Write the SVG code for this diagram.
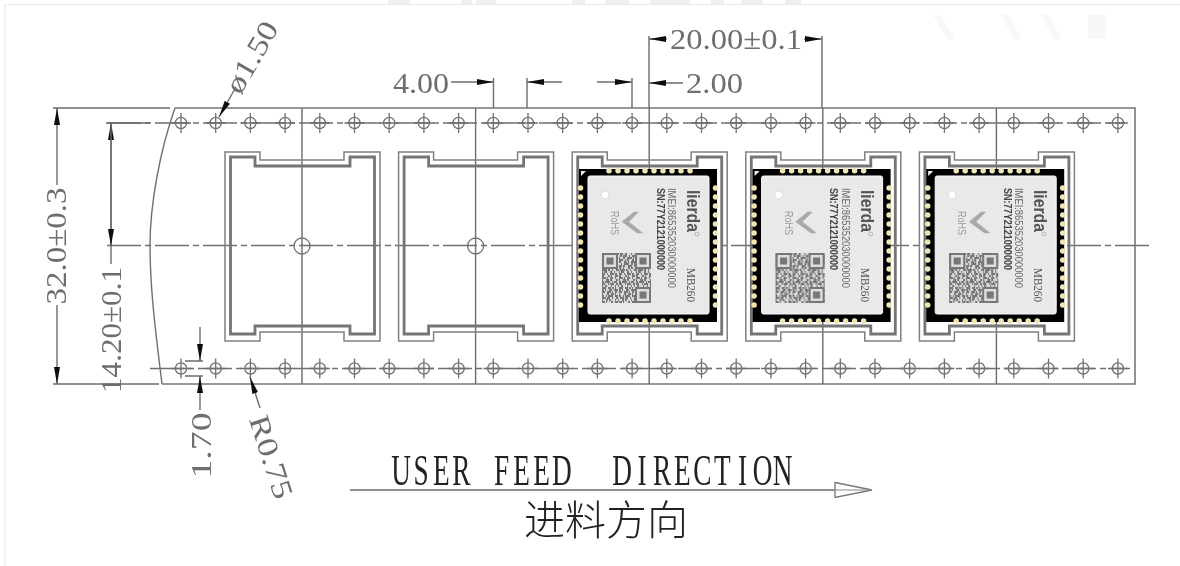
<svg xmlns="http://www.w3.org/2000/svg" width="1180" height="566" viewBox="0 0 1180 566">
<style>
.l{stroke:#707070;stroke-width:1.4;fill:none}
.t{stroke:#777;stroke-width:1.6;fill:none}
.c{stroke:#6f6f6f;stroke-width:1.4;fill:none;stroke-dasharray:34 4 6 4}
.d{stroke:#6c6c6c;stroke-width:1.4;fill:none}
.a{marker-end:url(#ah)}
.dim{font-family:"Liberation Serif",serif;font-size:29px;fill:#6e6e6e}
.imei{font-family:"Liberation Sans",sans-serif;font-size:10.5px;fill:#6a6a6a}
.sn{font-family:"Liberation Sans",sans-serif;font-size:10.5px;fill:#444;font-weight:700}
.brand{font-family:"Liberation Sans",sans-serif;font-size:19px;fill:#555;font-weight:700}
.mb{font-family:"Liberation Serif",serif;font-size:13px;fill:#555}
.rohs{font-family:"Liberation Sans",sans-serif;font-size:10px;fill:#999}
</style>
<defs>
<marker id="ah" markerUnits="userSpaceOnUse" markerWidth="18" markerHeight="8" refX="17" refY="4" orient="auto"><path d="M0 1L17 4L0 7Z" fill="#111"/></marker>
<filter id="soft" x="-2%" y="-2%" width="104%" height="104%"><feGaussianBlur stdDeviation="0.4"/></filter>
<g id="h"><circle r="5.6" fill="none" stroke="#6f6f6f" stroke-width="1.3"/><path d="M0-10V10M-10 0H10" stroke="#6f6f6f" stroke-width="1.3"/></g>
<g id="pocket">
<path d="M225 152H260V160H344V152H380V341H344V332H260V341H225Z" fill="none" stroke="#808080" stroke-width="1.5"/>
<path d="M230.500 157H255V166H350V157H374.500V334H350V326H255V334H230.500Z" fill="none" stroke="#747474" stroke-width="2.8"/>
</g>
<g id="chip">
<rect x="579" y="169" width="138" height="153" fill="#050505"/>
<path d="M581 171H586L581 176Z" fill="#f4f4f4"/>
<path d="M609 170.800H691M609 321H691" stroke="#efe6b4" stroke-width="5.500" stroke-linecap="round" stroke-dasharray="0 9" fill="none"/>
<path d="M580.500 188V307M715.500 188V307" stroke="#efe6b4" stroke-width="5.500" stroke-linecap="round" stroke-dasharray="0 9" fill="none"/>
<rect x="588" y="176" width="121" height="138" rx="2" fill="#e9e9e9" stroke="#fafafa" stroke-width="1"/>
<circle cx="605" cy="195" r="4" fill="#fff" stroke="#ddd"/>
<path d="M621.700 221.700L634 211.700H639L629 221.700L643.300 233.300H637.300Z" fill="#a9a9a9"/>
<circle cx="697" cy="234" r="2" fill="none" stroke="#aaa" stroke-width=".8"/>
<rect x="602" y="253" width="49" height="50" fill="#d8d8d8"/>
<g fill="none" stroke="#777" stroke-width="2">
<path d="M602 254h49" stroke-dasharray="3 2 2 4 1 3 2 1"/>
<path d="M602 256h49" stroke-dasharray="2 1 4 2 1 2 3 3"/>
<path d="M602 258h49" stroke-dasharray="1 3 2 2 5 1 1 2"/>
<path d="M602 260h49" stroke-dasharray="4 2 1 1 2 3 2 2"/>
<path d="M602 262h49" stroke-dasharray="2 3 3 1 1 2 4 1"/>
<path d="M602 264h49" stroke-dasharray="1 2 5 2 2 1 3 3"/>
<path d="M602 266h49" stroke-dasharray="3 1 2 3 4 2 1 1"/>
<path d="M602 268h49" stroke-dasharray="2 2 1 4 2 1 2 3"/>
<path d="M602 270h49" stroke-dasharray="5 1 2 2 1 3 3 1"/>
<path d="M602 272h49" stroke-dasharray="1 1 3 3 2 2 1 4"/>
<path d="M602 274h49" stroke-dasharray="3 2 1 2 4 1 2 2"/>
<path d="M602 276h49" stroke-dasharray="2 4 2 1 1 3 3 1"/>
<path d="M602 278h49" stroke-dasharray="4 1 1 2 3 2 1 3"/>
<path d="M602 280h49" stroke-dasharray="1 3 3 1 2 4 2 1"/>
<path d="M602 282h49" stroke-dasharray="2 1 5 2 1 1 3 2"/>
<path d="M602 284h49" stroke-dasharray="3 3 1 1 4 2 2 1"/>
<path d="M602 286h49" stroke-dasharray="1 2 2 4 1 3 1 2"/>
<path d="M602 288h49" stroke-dasharray="4 2 3 1 2 1 1 3"/>
<path d="M602 290h49" stroke-dasharray="2 1 1 3 3 2 4 1"/>
<path d="M602 292h49" stroke-dasharray="3 2 4 1 1 2 2 2"/>
<path d="M602 294h49" stroke-dasharray="1 4 2 2 3 1 1 3"/>
<path d="M602 296h49" stroke-dasharray="2 2 1 1 5 2 3 1"/>
<path d="M602 298h49" stroke-dasharray="4 1 3 2 1 3 2 2"/>
<path d="M602 300h49" stroke-dasharray="1 3 2 1 2 4 1 2"/>
<path d="M602 302h49" stroke-dasharray="3 1 1 4 2 2 3 1"/>
</g>
<rect x="602" y="253" width="16" height="16" fill="#777"/><rect x="604" y="255" width="12" height="12" fill="#ddd"/><rect x="606.500" y="257.500" width="7" height="7" fill="#777"/>
<rect x="635" y="253" width="16" height="16" fill="#777"/><rect x="637" y="255" width="12" height="12" fill="#ddd"/><rect x="639.500" y="257.500" width="7" height="7" fill="#777"/>
<rect x="635" y="287" width="16" height="16" fill="#777"/><rect x="637" y="289" width="12" height="12" fill="#ddd"/><rect x="639.500" y="291.500" width="7" height="7" fill="#777"/>
</g>
</defs>
<rect width="1180" height="566" fill="#fff"/>
<g id="frame">
<path d="M5 566V4.500H1180" fill="none" stroke="#ececec" stroke-width="1.2"/>
<g fill="#efefef"><rect x="388" y="0" width="22" height="4"/><rect x="461" y="0" width="11" height="4"/><rect x="476" y="0" width="20" height="4"/><rect x="572" y="0" width="13" height="4"/><rect x="605" y="0" width="24" height="4"/><rect x="650" y="0" width="40" height="4"/><rect x="711" y="0" width="13" height="4"/><rect x="741" y="0" width="22" height="4"/><rect x="785" y="0" width="16" height="4"/></g>
<g fill="#f8f8f8"><path d="M933 15h8l14 24h-8zM1000 15h8l14 24h-8zM1040 15h8l14 24h-8zM1088 15h18v24h-18z"/></g>
</g>
<g filter="url(#soft)">
<g id="tape">
<path class="t" d="M175 108H1135V384H162"/>
<path class="l" d="M175 108C160 150 150 205 150 245C150 290 156 335 162 384"/>
<path class="d" d="M302 108V384M475.600 108V384M649.200 108V384M822.800 108V384M996.400 108V384"/>
<path class="c" d="M107 123H1125"/>
<path class="c" d="M150 368.500H1130"/>
<path class="c" d="M107 245.500H1152"/>
</g>
<g id="holes">
<use href="#h" x="181" y="123"/><use href="#h" x="215.700" y="123"/><use href="#h" x="250.400" y="123"/><use href="#h" x="285.100" y="123"/><use href="#h" x="319.800" y="123"/><use href="#h" x="354.500" y="123"/><use href="#h" x="389.200" y="123"/><use href="#h" x="423.900" y="123"/><use href="#h" x="458.600" y="123"/><use href="#h" x="493.300" y="123"/><use href="#h" x="528" y="123"/><use href="#h" x="562.700" y="123"/><use href="#h" x="597.400" y="123"/><use href="#h" x="632.100" y="123"/><use href="#h" x="666.800" y="123"/><use href="#h" x="701.500" y="123"/><use href="#h" x="736.200" y="123"/><use href="#h" x="770.900" y="123"/><use href="#h" x="805.600" y="123"/><use href="#h" x="840.300" y="123"/><use href="#h" x="875" y="123"/><use href="#h" x="909.700" y="123"/><use href="#h" x="944.400" y="123"/><use href="#h" x="979.100" y="123"/><use href="#h" x="1013.800" y="123"/><use href="#h" x="1048.500" y="123"/><use href="#h" x="1083.200" y="123"/><use href="#h" x="1117.900" y="123"/>
<use href="#h" x="181" y="368.500"/><use href="#h" x="215.700" y="368.500"/><use href="#h" x="250.400" y="368.500"/><use href="#h" x="285.100" y="368.500"/><use href="#h" x="319.800" y="368.500"/><use href="#h" x="354.500" y="368.500"/><use href="#h" x="389.200" y="368.500"/><use href="#h" x="423.900" y="368.500"/><use href="#h" x="458.600" y="368.500"/><use href="#h" x="493.300" y="368.500"/><use href="#h" x="528" y="368.500"/><use href="#h" x="562.700" y="368.500"/><use href="#h" x="597.400" y="368.500"/><use href="#h" x="632.100" y="368.500"/><use href="#h" x="666.800" y="368.500"/><use href="#h" x="701.500" y="368.500"/><use href="#h" x="736.200" y="368.500"/><use href="#h" x="770.900" y="368.500"/><use href="#h" x="805.600" y="368.500"/><use href="#h" x="840.300" y="368.500"/><use href="#h" x="875" y="368.500"/><use href="#h" x="909.700" y="368.500"/><use href="#h" x="944.400" y="368.500"/><use href="#h" x="979.100" y="368.500"/><use href="#h" x="1013.800" y="368.500"/><use href="#h" x="1048.500" y="368.500"/><use href="#h" x="1083.200" y="368.500"/><use href="#h" x="1117.900" y="368.500"/>
</g>
<g id="pocket-1"><use href="#pocket"/><circle cx="302" cy="246" r="8" fill="none" stroke="#6f6f6f" stroke-width="1.3"/></g>
<g id="pocket-2"><use href="#pocket" x="173.600"/><circle cx="475.600" cy="246" r="8" fill="none" stroke="#6f6f6f" stroke-width="1.3"/></g>
<g id="module-1"><use href="#pocket" x="347.200"/><use href="#chip"/>
<text class="brand" transform="translate(687 190) rotate(90)" textLength="42" lengthAdjust="spacingAndGlyphs">lierda</text>
<text class="imei" transform="translate(668 188) rotate(90)" textLength="100" lengthAdjust="spacingAndGlyphs">IMEI:865352030000000</text>
<text class="sn" transform="translate(656.500 188) rotate(90)" textLength="82" lengthAdjust="spacingAndGlyphs">SN:77Y2121000000</text>
<text class="mb" transform="translate(687 268) rotate(90)" textLength="34" lengthAdjust="spacingAndGlyphs">MB260</text>
<text class="rohs" transform="translate(611 211) rotate(90)" textLength="24" lengthAdjust="spacingAndGlyphs">RoHS</text>
</g>
<g id="module-2"><use href="#pocket" x="520.800"/><use href="#chip" x="173.600"/>
<text class="brand" transform="translate(860.600 190) rotate(90)" textLength="42" lengthAdjust="spacingAndGlyphs">lierda</text>
<text class="imei" transform="translate(841.600 188) rotate(90)" textLength="100" lengthAdjust="spacingAndGlyphs">IMEI:865352030000000</text>
<text class="sn" transform="translate(830.100 188) rotate(90)" textLength="82" lengthAdjust="spacingAndGlyphs">SN:77Y2121000000</text>
<text class="mb" transform="translate(860.600 268) rotate(90)" textLength="34" lengthAdjust="spacingAndGlyphs">MB260</text>
<text class="rohs" transform="translate(784.600 211) rotate(90)" textLength="24" lengthAdjust="spacingAndGlyphs">RoHS</text>
</g>
<g id="module-3"><use href="#pocket" x="694.400"/><use href="#chip" x="347.200"/>
<text class="brand" transform="translate(1034.200 190) rotate(90)" textLength="42" lengthAdjust="spacingAndGlyphs">lierda</text>
<text class="imei" transform="translate(1015.200 188) rotate(90)" textLength="100" lengthAdjust="spacingAndGlyphs">IMEI:865352030000000</text>
<text class="sn" transform="translate(1003.700 188) rotate(90)" textLength="82" lengthAdjust="spacingAndGlyphs">SN:77Y2121000000</text>
<text class="mb" transform="translate(1034.200 268) rotate(90)" textLength="34" lengthAdjust="spacingAndGlyphs">MB260</text>
<text class="rohs" transform="translate(958.200 211) rotate(90)" textLength="24" lengthAdjust="spacingAndGlyphs">RoHS</text>
</g>
<g id="connectors">
<path class="d" d="M53 108H170M53 384H159M106 123H150"/>
<path class="d a" d="M57 185V108"/><path class="d a" d="M57 305V384"/>
<path class="d a" d="M111 245V123"/><path class="d a" d="M111 123V246"/><path class="d" d="M111 246V264"/>
<path class="d a" d="M451 82H493.500"/><path class="d" d="M493.500 78V108"/>
<path class="d a" d="M562 82H527"/><path class="d" d="M527 78V108"/>
<path class="d a" d="M597 82H632"/><path class="d" d="M632 78V108"/>
<path class="d a" d="M683 83H649"/><path class="d" d="M649 36V108"/>
<path class="d a" d="M667 39H649"/>
<path class="d a" d="M804 39H822"/><path class="d" d="M822 36V108"/>
<path class="d a" d="M236 87L219 117"/>
<path class="d a" d="M260 408L250 377"/>
<path class="d" d="M185 361H203M185 376H203"/>
<path class="d a" d="M200 327V361"/><path class="d a" d="M200 410V376"/>
<path class="d" d="M350 490H838"/>
<path d="M835 482.500L872 490L835 497.500Z" fill="#fff" stroke="#777" stroke-width="1.3"/><path d="M835 490H872" stroke="#888" stroke-width="1"/>
</g>
<g id="labels">
<text class="dim" transform="translate(66 246) rotate(-90)" text-anchor="middle" textLength="117" lengthAdjust="spacingAndGlyphs">32.0±0.3</text>
<text class="dim" transform="translate(121 330) rotate(-90)" text-anchor="middle" textLength="126" lengthAdjust="spacingAndGlyphs">14.20±0.1</text>
<text class="dim" x="393" y="93" textLength="56" lengthAdjust="spacingAndGlyphs">4.00</text>
<text class="dim" x="686" y="93" textLength="57" lengthAdjust="spacingAndGlyphs">2.00</text>
<text class="dim" x="670" y="49" textLength="132" lengthAdjust="spacingAndGlyphs">20.00±0.1</text>
<text class="dim" transform="translate(260 62) rotate(-60)" text-anchor="middle" textLength="78" lengthAdjust="spacingAndGlyphs">ø1.50</text>
<text class="dim" transform="translate(211 445.500) rotate(-90)" text-anchor="middle" textLength="66" lengthAdjust="spacingAndGlyphs">1.70</text>
<text class="dim" transform="translate(262 460) rotate(72)" text-anchor="middle" textLength="86" lengthAdjust="spacingAndGlyphs">R0.75</text>
<text transform="translate(391 485) scale(.62 1)" text-anchor="middle" x="16.200 48.600 81 113.400 145.800 178.200 210.600 243 275.400 307.800 340.200 372.600 405 437.400 469.800 502.200 534.600 567 599.400 631.800" style="white-space:pre;font-family:'Liberation Serif',serif;font-size:44px;fill:#222">USER FEED  DIRECTION</text>
<text x="524" y="535" style="font-family:'Noto Sans CJK SC',sans-serif;font-weight:300;font-size:41px;fill:#222">进料方向</text>
</g>
</g>
</svg>
